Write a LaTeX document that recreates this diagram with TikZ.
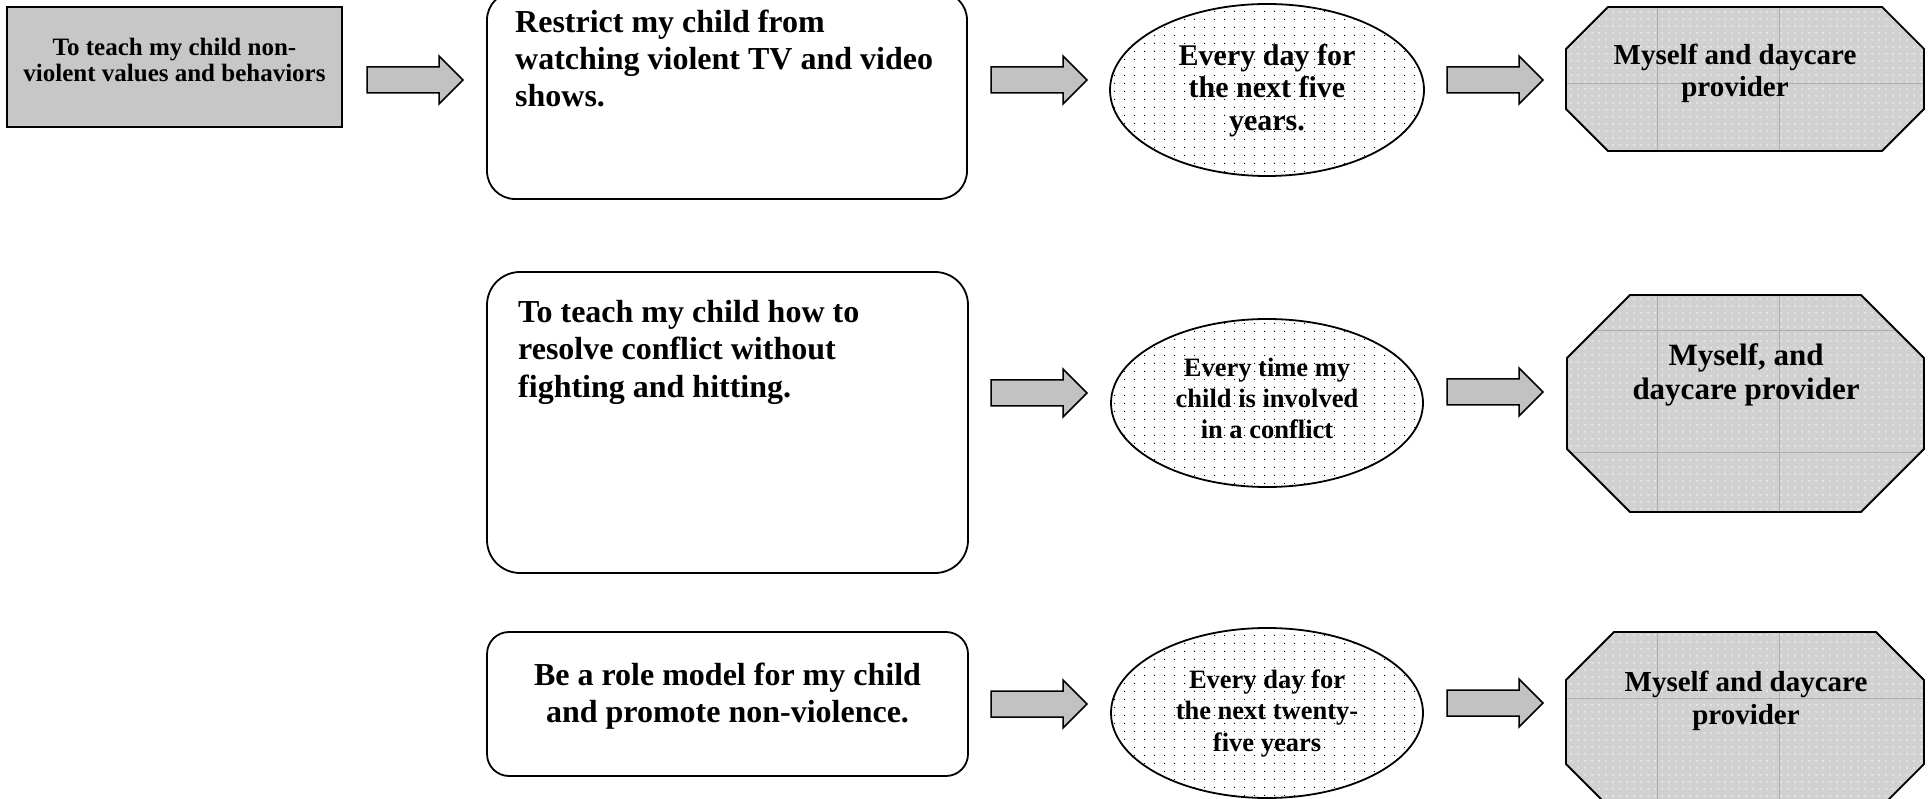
\documentclass[tikz,border=0pt]{standalone}
\usepackage{fontspec}
\setmainfont{Liberation Serif}
\usetikzlibrary{shapes.geometric,patterns}

\pgfdeclarepatternformonly{edots}{\pgfpointorigin}{\pgfqpoint{10pt}{8pt}}{\pgfqpoint{10pt}{8pt}}{%
  \pgfpathcircle{\pgfqpoint{5pt}{4pt}}{0.75pt}\pgfusepath{fill}}
\pgfdeclarepatternformonly{odots}{\pgfpointorigin}{\pgfqpoint{7pt}{7pt}}{\pgfqpoint{7pt}{7pt}}{%
  \pgfpathcircle{\pgfqpoint{3.5pt}{3.5pt}}{0.9pt}\pgfusepath{fill}}

\definecolor{boxgray}{gray}{0.78}
\definecolor{arrowgray}{gray}{0.76}
\definecolor{octgray}{gray}{0.82}
\definecolor{seamgray}{gray}{0.68}

\tikzset{
  goalbox/.style={draw, line width=1.8pt, fill=boxgray, inner sep=0pt},
  roundbox/.style={draw, line width=1.8pt, fill=white, inner sep=0pt},
  dotellipse/.style={ellipse, draw, line width=1.8pt, pattern=edots, pattern color=black, inner sep=0pt},
  blockarr/.style={draw, line width=1.5pt, fill=arrowgray, line join=miter},
  octline/.style={draw, line width=1.8pt, line join=miter},
  txt/.style={inner sep=0pt, align=center},
  ltxt/.style={inner sep=0pt, align=left},
}

\newcommand\blockarrow[2]{%
  \draw[blockarr] (#1,#2-13) -- (#1+72,#2-13) -- (#1+72,#2-24) -- (#1+96,#2)
    -- (#1+72,#2+24) -- (#1+72,#2+13) -- (#1,#2+13) -- cycle;}

% x1 y1 x2 y2 cut, seam-lines
\newcommand\octagonshape[6]{%
  \fill[octgray] (#1+#5,#2) -- (#3-#5,#2) -- (#3,#2+#5) -- (#3,#4-#5) -- (#3-#5,#4)
    -- (#1+#5,#4) -- (#1,#4-#5) -- (#1,#2+#5) -- cycle;
  \begin{scope}
    \clip (#1+#5,#2) -- (#3-#5,#2) -- (#3,#2+#5) -- (#3,#4-#5) -- (#3-#5,#4)
      -- (#1+#5,#4) -- (#1,#4-#5) -- (#1,#2+#5) -- cycle;
    \fill[pattern=odots, pattern color=white] (#1,#2) rectangle (#3,#4);
    \draw[seamgray, line width=0.7pt] (1657,#2) -- (1657,#4) (1779,#2) -- (1779,#4) #6;
  \end{scope}
  \draw[octline] (#1+#5,#2) -- (#3-#5,#2) -- (#3,#2+#5) -- (#3,#4-#5) -- (#3-#5,#4)
    -- (#1+#5,#4) -- (#1,#4-#5) -- (#1,#2+#5) -- cycle;}

\begin{document}
\begin{tikzpicture}[x=1pt,y=-1pt]
\useasboundingbox (0,0) rectangle (1931,799);

% goal box
\node[goalbox, minimum width=335pt, minimum height=120pt] (goal) at (174.5,67) {};
\node[txt, anchor=north, font=\fontsize{25}{26}\selectfont\bfseries] (goaltxt) at (174.5,36.8)
  {\strut To teach my child non-\\\strut violent values and behaviors};

% rounded boxes
\node[roundbox, rounded corners=28pt, minimum width=480pt, minimum height=207pt] (box1) at (727,95.5) {};
\node[ltxt, anchor=north west, font=\fontsize{32}{37}\selectfont\bfseries] (box1txt) at (515,6.1)
  {\strut Restrict my child from\\\strut watching violent TV and video\\\strut shows.};

\node[roundbox, rounded corners=33pt, minimum width=481pt, minimum height=301pt] (box2) at (727.5,422.5) {};
\node[ltxt, anchor=north west, font=\fontsize{32}{37.5}\selectfont\bfseries] (box2txt) at (518,295.75)
  {\strut To teach my child how to\\\strut resolve conflict without\\\strut fighting and hitting.};

\node[roundbox, rounded corners=22pt, minimum width=481pt, minimum height=144pt] (box3) at (727.5,704) {};
\node[txt, anchor=north, font=\fontsize{32}{37}\selectfont\bfseries] (box3txt) at (727.5,659.1)
  {\strut Be a role model for my child\\\strut and promote non-violence.};

% ellipses
\node[dotellipse, minimum width=314pt, minimum height=172pt] (ell1) at (1267,90) {};
\node[txt, anchor=north, font=\fontsize{30}{32.5}\selectfont\bfseries] (ell1txt) at (1267,42.25)
  {\strut Every day for\\\strut the next five\\\strut years.};

\node[dotellipse, minimum width=312pt, minimum height=168pt] (ell2) at (1267,403) {};
\node[txt, anchor=north, font=\fontsize{26.5}{31}\selectfont\bfseries] (ell2txt) at (1267,354.3)
  {\strut Every time my\\\strut child is involved\\\strut in a conflict};

\node[dotellipse, minimum width=312pt, minimum height=170pt] (ell3) at (1267,713) {};
\node[txt, anchor=north, font=\fontsize{26.5}{31.5}\selectfont\bfseries] (ell3txt) at (1267,665.95)
  {\strut Every day for\\\strut the next twenty-\\\strut five years};

% octagons
\octagonshape{1566}{7}{1924}{151}{42}{(1566,83) -- (1924,83)}
\node[txt, anchor=north, font=\fontsize{29}{32}\selectfont\bfseries] (oct1) at (1735,41.6)
  {\strut Myself and daycare\\\strut provider};

\octagonshape{1567}{295}{1924}{512}{63}{(1567,330) -- (1924,330) (1567,452) -- (1924,452)}
\node[txt, anchor=north, font=\fontsize{31}{34}\selectfont\bfseries] (oct2) at (1746,341.2)
  {\strut Myself, and\\\strut daycare provider};

\octagonshape{1566}{632}{1924}{812}{48}{(1566,698) -- (1924,698)}
\node[txt, anchor=north, font=\fontsize{29}{33}\selectfont\bfseries] (oct3) at (1746,667.9)
  {\strut Myself and daycare\\\strut provider};

% block arrows
\blockarrow{367}{80}
\blockarrow{991}{80}
\blockarrow{1447}{80}
\blockarrow{991}{393}
\blockarrow{1447}{392}
\blockarrow{991}{704}
\blockarrow{1447}{703}
\end{tikzpicture}
\end{document}
